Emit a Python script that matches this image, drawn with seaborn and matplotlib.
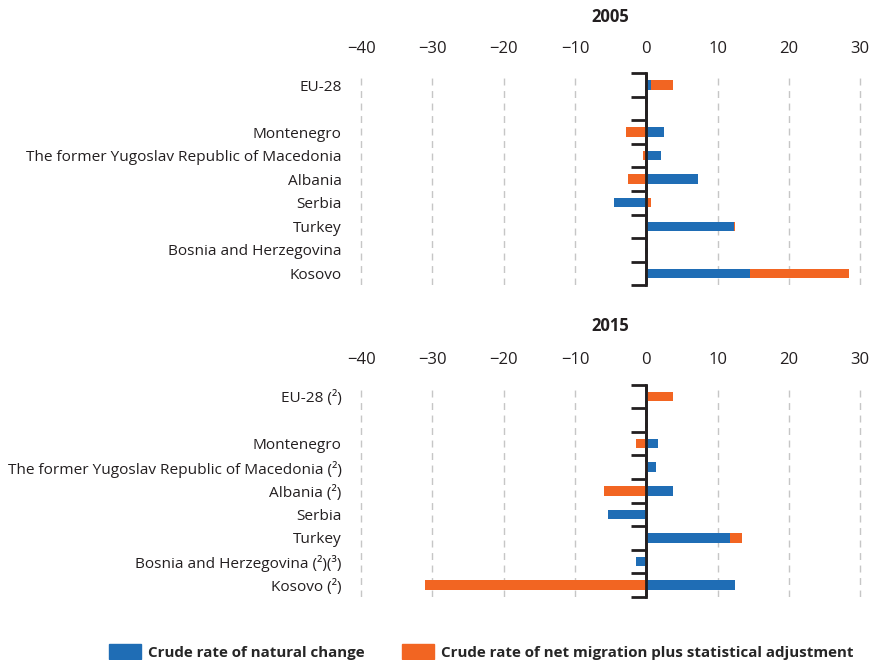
import numpy as np
import pandas as pd
import matplotlib
matplotlib.use("Agg")
import matplotlib.pyplot as plt
import seaborn as sns
from matplotlib.patches import Patch

# Data (per 1000 inhabitants)
countries_2005 = ["EU-28", " ", "Montenegro", "The former Yugoslav Republic of Macedonia",
                  "Albania", "Serbia", "Turkey", "Bosnia and Herzegovina", "Kosovo"]
natural_2005 = [0.6, np.nan, 2.5, 2.1, 7.2, -4.5, 12.3, np.nan, 14.5]
migration_2005 = [3.1, np.nan, -2.9, -0.4, -2.6, 0.6, 0.1, np.nan, 14.0]

countries_2015 = ["EU-28 (²)", " ", "Montenegro", "The former Yugoslav Republic of Macedonia (²)",
                  "Albania (²)", "Serbia", "Turkey", "Bosnia and Herzegovina (²)(³)", "Kosovo (²)"]
natural_2015 = [-0.2, np.nan, 1.7, 1.3, 3.7, -5.4, 11.8, -1.5, 12.4]
migration_2015 = [3.7, np.nan, -1.5, -0.2, -5.9, np.nan, 1.6, np.nan, -31.1]

years = ["2005", "2015"]
x_ticks = [-40, -30, -20, -10, 0, 10, 20, 30]

BLUE = "#1f6db5"
ORANGE = "#f26522"
DARK = "#231f20"

sns.set_style("white")
plt.rcParams["font.family"] = ["Open Sans", "DejaVu Sans"]

fig = plt.figure(figsize=(8.75, 6.6), dpi=100)
ax_top = fig.add_axes([0.4045, 0.568, 0.5867, 0.321])
ax_bot = fig.add_axes([0.4045, 0.0955, 0.5867, 0.3217])


def draw_panel(ax, countries, natural, migration, year, title_y):
    df = pd.DataFrame({"country": countries, "natural": natural, "migration": migration})
    # orange stacks on top of blue when both have the same sign, otherwise starts at 0
    same = np.sign(df["natural"].fillna(0)) == np.sign(df["migration"].fillna(0))
    df["mig_end"] = df["migration"] + np.where(same, df["natural"].fillna(0), 0)

    sns.barplot(data=df, x="mig_end", y="country", order=countries, orient="h",
                color=ORANGE, saturation=1, width=0.4, errorbar=None,
                linewidth=0, ax=ax)
    sns.barplot(data=df, x="natural", y="country", order=countries, orient="h",
                color=BLUE, saturation=1, width=0.4, errorbar=None,
                linewidth=0, ax=ax)

    ax.set_xlim(-41, 31)
    ax.set_ylim(len(countries) - 0.5, -0.5)
    ax.set_xlabel("")
    ax.set_ylabel("")
    ax.xaxis.tick_top()
    ax.set_xticks(x_ticks)
    ax.tick_params(axis="x", length=0, pad=12, labelsize=12, colors=DARK)
    ax.tick_params(axis="y", length=0, pad=9, labelsize=11.1, colors=DARK)
    for s in ax.spines.values():
        s.set_visible(False)
    ax.grid(axis="x", linestyle=(0, (5, 4)), color="#c6c6c6", linewidth=1)
    ax.grid(axis="y", visible=False)
    ax.set_axisbelow(True)

    # black axis line at zero with ticks between categories
    ax.axvline(0, color=DARK, linewidth=2, zorder=4)
    sec = ax.secondary_yaxis(0, transform=ax.transData)
    sec.set_yticks(np.arange(-0.5, len(countries), 1))
    sec.set_yticklabels([])
    sec.tick_params(length=11, width=2, color=DARK, direction="out")
    sec.spines["left"].set_linewidth(2)
    sec.spines["left"].set_color(DARK)

    ax.text(0.5, title_y, year, transform=ax.transAxes, ha="center", va="center",
            fontsize=12, fontweight="bold", color=DARK)


draw_panel(ax_top, countries_2005, natural_2005, migration_2005, years[0], 1.264)
draw_panel(ax_bot, countries_2015, natural_2015, migration_2015, years[1], 1.276)

handles = [Patch(color=BLUE, label="Crude rate of natural change"),
           Patch(color=ORANGE, label="Crude rate of net migration plus statistical adjustment")]
fig.legend(handles=handles, loc="center left", bbox_to_anchor=(109 / 875, 8 / 660),
           ncol=2, frameon=False, borderpad=0, borderaxespad=0, handlelength=2.1,
           handleheight=1.1, handletextpad=0.45, columnspacing=2.5,
           prop={"family": ["Open Sans", "DejaVu Sans"], "weight": "bold", "size": 10.9})

fig.savefig("out.png", dpi=100)
